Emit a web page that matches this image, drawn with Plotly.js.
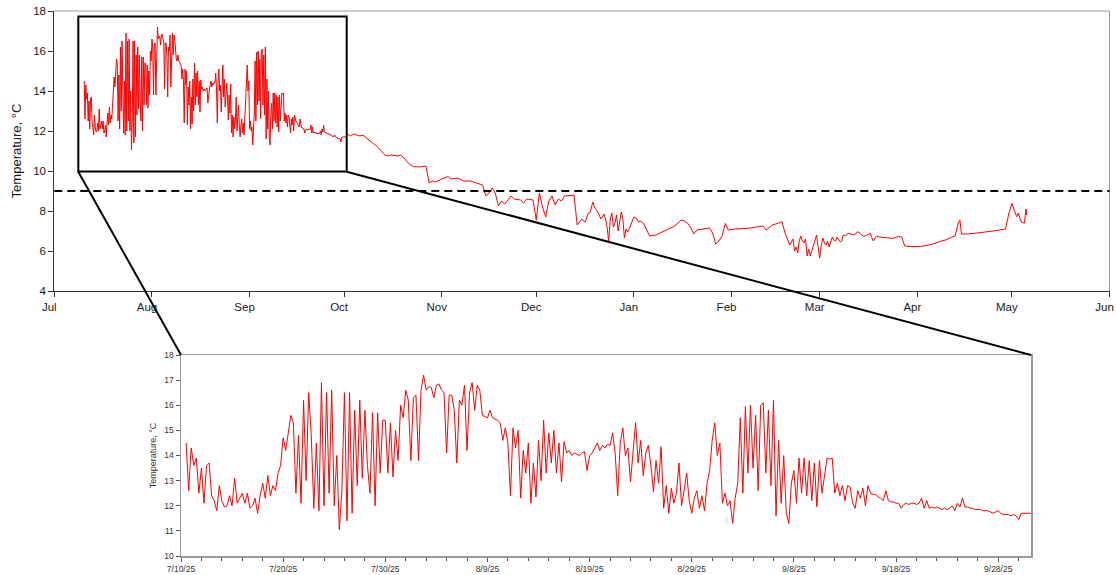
<!DOCTYPE html>
<html>
<head>
<meta charset="utf-8">
<script src="https://cdn.plot.ly/plotly-3.0.1.min.js"></script>
<style>html,body{margin:0;padding:0;background:#fff;}#chart{width:1116px;height:575px;}</style>
</head>
<body>
<div id="chart"></div>
<script>
// ---- DATA ----
// Summer logger record, 6-hourly, starting 2025-07-10 12:00
const summerStart = '2025-07-10T12:00:00Z';
const summerStepHours = 6;
const summerTemps = [
 14.5, 12.6,
 14.3, 13.6, 13.9, 12.5,
 13.5, 12.1, 13.6, 13.7,
 12.4, 12.2, 11.8, 12.8,
 12.2, 11.95, 12.0, 12.4,
 12.0, 13.1, 12.1, 12.3,
 12.5, 12.1, 12.5, 11.9,
 12.0, 12.3, 11.7, 12.4,
 12.9, 12.3, 13.2, 12.4,
 12.8, 12.6, 13.3, 13.6,
 14.7, 14.2, 15.0, 15.6,
 15.3, 12.5, 14.8, 12.1,
 16.2, 13.0, 16.5, 14.8,
 11.9, 14.5, 11.8, 16.9,
 12.0, 16.5, 12.5, 16.6,
 12.0, 14.0, 11.05, 12.6,
 16.5, 11.4, 16.5, 11.7,
 15.8, 12.8, 16.2, 13.1,
 15.8, 13.6, 12.5, 15.7,
 12.0, 15.7, 13.3, 15.4,
 15.4, 13.3, 15.3, 13.15,
 15.0, 13.8, 16.0, 15.5,
 16.6, 16.2, 13.8, 16.3,
 16.4, 13.8, 16.6, 17.2,
 16.6, 16.75, 16.7, 16.3,
 16.8, 16.85, 16.6, 16.5,
 14.1, 16.4, 16.4, 15.8,
 13.7, 16.2, 16.0, 16.8,
 14.2, 16.5, 16.9, 15.8,
 16.8, 16.6, 15.6, 15.55,
 15.5, 15.8, 15.5, 15.45,
 15.4, 15.3, 14.6, 15.1,
 14.5, 12.4, 15.1, 14.3,
 15.0, 12.3, 14.2, 13.3,
 14.5, 12.1, 13.7, 12.35,
 14.6, 13.0, 15.4, 13.3,
 14.9, 13.7, 15.0, 13.3,
 14.5, 12.95, 14.55, 14.1,
 14.2, 14.0, 14.1, 14.05,
 14.0, 14.1, 14.15, 13.4,
 14.0, 14.1, 14.3, 14.5,
 14.2, 14.4, 14.3, 14.45,
 14.4, 14.9, 14.1, 12.4,
 14.5, 15.1, 14.0, 14.3,
 12.95, 14.3, 15.3, 13.7,
 14.6, 13.2, 14.1, 14.4,
 13.6, 12.55, 13.8, 12.9,
 14.35, 11.9, 12.8, 11.7,
 12.7, 12.1, 12.5, 13.7,
 12.0, 12.6, 13.3, 12.2,
 11.7, 12.3, 12.6, 11.9,
 12.4, 11.8, 12.9, 13.4,
 14.6, 15.3, 14.0, 14.5,
 12.1, 12.5, 12.0, 12.2,
 11.3, 12.3, 12.9, 15.5,
 12.5, 15.95, 13.3, 16.0,
 13.5, 15.6, 12.6, 16.0,
 16.1, 13.3, 15.8, 12.8,
 16.2, 11.6, 14.6, 12.1,
 14.0, 11.7, 11.3, 12.9,
 13.4, 12.1, 13.9, 12.5,
 13.9, 12.4, 13.8, 12.2,
 13.7, 11.96, 13.8, 12.5,
 13.3, 13.9, 13.85, 13.9,
 12.5, 12.9, 12.4, 12.8,
 12.2, 12.8, 12.75, 12.1,
 11.9, 12.6, 12.3, 12.7,
 12.0, 12.8, 12.5, 12.45,
 12.45, 12.35, 12.3, 12.2,
 12.6, 12.2, 12.15, 12.15,
 12.1, 12.1, 11.9, 12.05,
 12.1, 12.05, 12.1, 12.1,
 12.05, 12.1, 12.3, 11.9,
 12.2, 11.9, 11.95, 11.9,
 11.95, 11.9, 11.85, 11.9,
 11.85, 11.9, 12.0, 11.8,
 12.1, 11.95, 12.3, 11.95,
 11.95, 11.9, 11.9, 11.85,
 11.85, 11.85, 11.8, 11.8,
 11.8, 11.75, 11.7, 11.75,
 11.8, 11.7, 11.65, 11.65,
 11.65, 11.6, 11.65, 11.6,
 11.45, 11.7, 11.7, 11.7,
 11.72
];

// Autumn-spring record, irregular readings
const winterDates = [
 '2025-10-01 12:00','2025-10-02','2025-10-03','2025-10-04','2025-10-05','2025-10-06','2025-10-07','2025-10-08','2025-10-09','2025-10-10',
 '2025-10-11','2025-10-12','2025-10-13','2025-10-14','2025-10-15','2025-10-16','2025-10-18','2025-10-19','2025-10-20','2025-10-21',
 '2025-10-22','2025-10-23','2025-10-25','2025-10-27','2025-10-28','2025-10-29','2025-10-30','2025-11-01','2025-11-03','2025-11-04',
 '2025-11-06','2025-11-08','2025-11-10','2025-11-12','2025-11-14','2025-11-15','2025-11-16','2025-11-17','2025-11-18','2025-11-19',
 '2025-11-20','2025-11-21','2025-11-22','2025-11-23','2025-11-24','2025-11-26','2025-11-27','2025-11-28','2025-11-30','2025-12-01',
 '2025-12-02','2025-12-03','2025-12-04','2025-12-05','2025-12-06','2025-12-07','2025-12-08','2025-12-09','2025-12-10','2025-12-12',
 '2025-12-13','2025-12-14','2025-12-15','2025-12-16','2025-12-17','2025-12-18','2025-12-19','2025-12-20','2025-12-21','2025-12-22',
 '2025-12-23','2025-12-24','2025-12-25','2025-12-26','2025-12-27','2025-12-28','2025-12-29','2025-12-30','2025-12-31','2026-01-01',
 '2026-01-02','2026-01-03','2026-01-04','2026-01-05','2026-01-06','2026-01-08','2026-01-10','2026-01-12','2026-01-14','2026-01-16',
 '2026-01-17','2026-01-18','2026-01-19','2026-01-20','2026-01-21','2026-01-23','2026-01-25','2026-01-26','2026-01-27','2026-01-28',
 '2026-01-29','2026-01-30','2026-01-31','2026-02-02','2026-02-06','2026-02-09','2026-02-11','2026-02-12','2026-02-14','2026-02-16',
 '2026-02-17','2026-02-18','2026-02-19','2026-02-20','2026-02-21','2026-02-22','2026-02-23','2026-02-24','2026-02-25','2026-02-26',
 '2026-02-27','2026-02-28','2026-03-01','2026-03-02','2026-03-03','2026-03-04','2026-03-05','2026-03-06','2026-03-07','2026-03-08',
 '2026-03-09','2026-03-10','2026-03-12','2026-03-13','2026-03-14','2026-03-15','2026-03-16','2026-03-17','2026-03-18','2026-03-19',
 '2026-03-20','2026-03-22','2026-03-24','2026-03-26','2026-03-27','2026-03-28','2026-03-30','2026-04-02','2026-04-04','2026-04-06',
 '2026-04-08','2026-04-10','2026-04-12','2026-04-13','2026-04-14','2026-04-14 12:00','2026-04-15','2026-04-17','2026-04-20','2026-04-23',
 '2026-04-26','2026-04-29','2026-04-30','2026-05-01','2026-05-02','2026-05-02 12:00','2026-05-03','2026-05-04','2026-05-05','2026-05-05 12:00',
 '2026-05-05 17:00'
];
const winterTemps = [
 11.7, 11.85, 11.75, 11.85, 11.8, 11.75, 11.8, 11.65, 11.5, 11.4,
 11.3, 11.15, 11.0, 10.8, 10.75, 10.8, 10.75, 10.8, 10.65, 10.5,
 10.3, 10.22, 10.2, 10.25, 9.4, 9.5, 9.45, 9.6, 9.72, 9.6,
 9.65, 9.5, 9.5, 9.4, 9.3, 8.75, 8.9, 9.15, 8.9, 8.25,
 8.5, 8.35, 8.55, 8.75, 8.6, 8.55, 8.4, 8.6, 8.55, 7.55,
 8.9, 8.2, 7.7, 8.5, 8.75, 8.3, 8.6, 8.5, 8.75, 8.8,
 8.8, 7.3, 7.45, 7.5, 7.65, 7.9, 8.45, 8.1, 7.8, 7.7,
 7.6, 6.5, 7.9, 7.4, 7.0, 7.95, 6.65, 6.95, 7.3, 7.7,
 7.6, 7.5, 7.4, 7.1, 6.75, 6.8, 6.97, 7.1, 7.25, 7.55,
 7.5, 7.4, 7.2, 6.85, 7.05, 7.1, 7.15, 6.9, 6.35, 6.5,
 6.75, 7.38, 7.05, 7.1, 7.13, 7.2, 7.25, 7.05, 7.3, 7.4,
 7.47, 6.9, 6.6, 6.45, 6.0, 5.9, 6.75, 6.4, 5.75, 5.75,
 6.3, 6.8, 5.65, 6.65, 6.3, 6.2, 6.7, 6.5, 6.6, 6.5,
 6.75, 6.88, 6.8, 6.97, 6.85, 6.72, 6.8, 6.88, 6.5, 6.75,
 6.7, 6.65, 6.63, 6.72, 6.7, 6.25, 6.22, 6.22, 6.3, 6.35,
 6.47, 6.55, 6.7, 6.75, 7.4, 7.55, 6.85, 6.85, 6.9, 6.95,
 7.02, 7.1, 7.85, 8.38, 7.9, 7.72, 7.9, 7.45, 7.4, 8.1,
 7.8
];
// Extra mid-day readings in the noisier winter stretches
const winterExtraDates = [
 '2025-12-14 12:00','2025-12-15 12:00','2025-12-16 12:00','2025-12-17 12:00','2025-12-18 12:00','2025-12-19 12:00','2025-12-20 12:00',
 '2025-12-21 12:00','2025-12-22 12:00','2025-12-23 12:00','2025-12-24 12:00','2025-12-25 12:00','2025-12-26 12:00','2025-12-27 12:00',
 '2025-12-28 12:00','2025-12-29 12:00','2025-12-30 12:00','2025-12-31 12:00','2026-01-01 12:00','2026-01-02 12:00',
 '2026-02-18 12:00','2026-02-19 12:00','2026-02-20 12:00','2026-02-21 12:00','2026-02-22 12:00','2026-02-23 12:00','2026-02-24 12:00',
 '2026-02-25 12:00','2026-02-26 12:00','2026-02-27 12:00','2026-02-28 12:00','2026-03-01 12:00','2026-03-02 12:00','2026-03-03 12:00',
 '2026-03-04 12:00','2026-03-05 12:00','2026-03-06 12:00','2026-03-07 12:00','2026-03-08 12:00'
];
const winterExtraTemps = [
 7.4, 7.6, 7.45, 7.9, 8.2, 8.2, 7.95,
 7.6, 7.85, 7.2, 7.6, 7.2, 7.8, 7.5,
 7.6, 7.1, 7.1, 7.5, 7.65, 7.45,
 6.7, 6.3, 6.6, 6.2, 6.5, 6.5, 6.6,
 6.1, 6.0, 6.6, 6.2, 6.3, 6.4, 6.5,
 6.45, 6.55, 6.7, 6.45, 6.8
];

const thresholdTemp = 9;
const zoomBox = {x0: '2025-07-08 15:00', x1: '2025-10-01 20:00', y0: 9.97, y1: 17.72};
const mainYTicks = [4, 6, 8, 10, 12, 14, 16, 18];
const insetYTicks = [10, 11, 12, 13, 14, 15, 16, 17, 18];
const yTitle = 'Temperature, °C';

// ---- BUILD SERIES ----
const t0 = Date.parse(summerStart);
const fmt = ms => new Date(ms).toISOString().slice(0, 19).replace('T', ' ');
const toMs = s => Date.parse(s.replace(' ', 'T') + (s.length <= 10 ? 'T00:00:00Z' : ':00Z'));
const pts = [];
summerTemps.forEach((v, i) => pts.push([t0 + i * summerStepHours * 3600000, v]));
winterDates.forEach((d, i) => pts.push([toMs(d), winterTemps[i]]));
winterExtraDates.forEach((d, i) => pts.push([toMs(d), winterExtraTemps[i]]));
pts.sort((a, b) => a[0] - b[0]);
const allX = pts.map(p => fmt(p[0]));
const allY = pts.map(p => p[1]);

// ---- LAYOUT ----
const W = 1116, H = 575;
const fx = p => p / W, fy = p => 1 - p / H;
const main = {l: 54.3, r: 1109.5, t: 11, b: 291};
const inset = {l: 181, r: 1031, t: 355, b: 556};
const FONT = 'Liberation Sans, Arial, sans-serif';
const DAY = 86400000;

const traces = [
  {x: allX, y: allY, type: 'scatter', mode: 'lines', line: {color: '#ff0000', width: 1}, xaxis: 'x', yaxis: 'y', hoverinfo: 'skip'},
  {x: allX, y: allY, type: 'scatter', mode: 'lines', line: {color: '#ff0000', width: 1}, xaxis: 'x2', yaxis: 'y2', hoverinfo: 'skip'}
];

const layout = {
  width: W, height: H,
  margin: {l: 0, r: 0, t: 0, b: 0},
  paper_bgcolor: '#ffffff', plot_bgcolor: 'rgba(0,0,0,0)',
  showlegend: false,
  font: {family: FONT, color: '#1a1a1a'},
  xaxis: {
    domain: [fx(main.l), fx(main.r)], anchor: 'y', type: 'date',
    range: ['2025-07-01', '2026-06-01'], tick0: '2025-07-01', dtick: 'M1', tickformat: '%b',
    ticks: 'outside', ticklen: 5, tickcolor: '#333', showline: true, linecolor: '#333', linewidth: 1,
    showgrid: false, zeroline: false, tickfont: {size: 11.5, color: '#1a1a1a'}, ticklabelshift: -5,
    ticklabeloverflow: 'allow', fixedrange: true
  },
  yaxis: {
    domain: [fy(main.b), fy(main.t)], anchor: 'x', range: [4, 18],
    tickmode: 'array', tickvals: mainYTicks, ticktext: mainYTicks.map(String),
    ticks: 'outside', ticklen: 5, tickcolor: '#333', showline: true, linecolor: '#333', linewidth: 1,
    showgrid: false, zeroline: false, tickfont: {size: 11.5, color: '#1a1a1a'},
    title: {text: yTitle, font: {size: 13, color: '#1a1a1a'}, standoff: 8}, fixedrange: true
  },
  xaxis2: {
    domain: [fx(inset.l), fx(inset.r)], anchor: 'y2', type: 'date',
    range: ['2025-07-10', '2025-10-01 05:00'], tick0: '2025-07-10', dtick: 10 * DAY, tickformat: '%-m/%-d/%y',
    ticks: 'outside', ticklen: 4, tickcolor: '#555', showline: true, mirror: true, linecolor: '#999', linewidth: 1.5,
    minor: {dtick: 2 * DAY, ticks: 'outside', ticklen: 3, tickcolor: '#555', showgrid: false},
    showgrid: false, zeroline: false, tickfont: {size: 8.5, color: '#333'}, fixedrange: true
  },
  yaxis2: {
    domain: [fy(inset.b), fy(inset.t)], anchor: 'x2', range: [10, 18],
    tickmode: 'array', tickvals: insetYTicks, ticktext: insetYTicks.map(String),
    ticks: 'outside', ticklen: 4, tickcolor: '#555', showline: true, mirror: true, linecolor: '#999', linewidth: 1.5,
    showgrid: false, zeroline: false, tickfont: {size: 8.5, color: '#333'},
    title: {text: yTitle, font: {size: 9, color: '#333'}, standoff: 6}, fixedrange: true
  },
  shapes: [
    {type: 'line', xref: 'x domain', yref: 'y domain', x0: 0, x1: 1, y0: 1, y1: 1, line: {color: '#9a9a9a', width: 1}},
    {type: 'line', xref: 'x domain', yref: 'y domain', x0: 1, x1: 1, y0: 0, y1: 1, line: {color: '#9a9a9a', width: 1}},
    {type: 'line', xref: 'x domain', yref: 'y', x0: 0, x1: 1, y0: thresholdTemp, y1: thresholdTemp, line: {color: '#000', width: 2, dash: '8px,5px'}},
    {type: 'rect', xref: 'x', yref: 'y', x0: zoomBox.x0, x1: zoomBox.x1, y0: zoomBox.y0, y1: zoomBox.y1, line: {color: '#000', width: 2}, fillcolor: 'rgba(0,0,0,0)'},
    {type: 'line', xref: 'paper', yref: 'paper', x0: fx(78.3), y0: fy(171.7), x1: fx(inset.l), y1: fy(inset.t), line: {color: '#000', width: 2}},
    {type: 'line', xref: 'paper', yref: 'paper', x0: fx(346.7), y0: fy(171.7), x1: fx(inset.r), y1: fy(inset.t), line: {color: '#000', width: 2}}
  ]
};

Plotly.newPlot('chart', traces, layout, {staticPlot: true, displayModeBar: false});
</script>
</body>
</html>
